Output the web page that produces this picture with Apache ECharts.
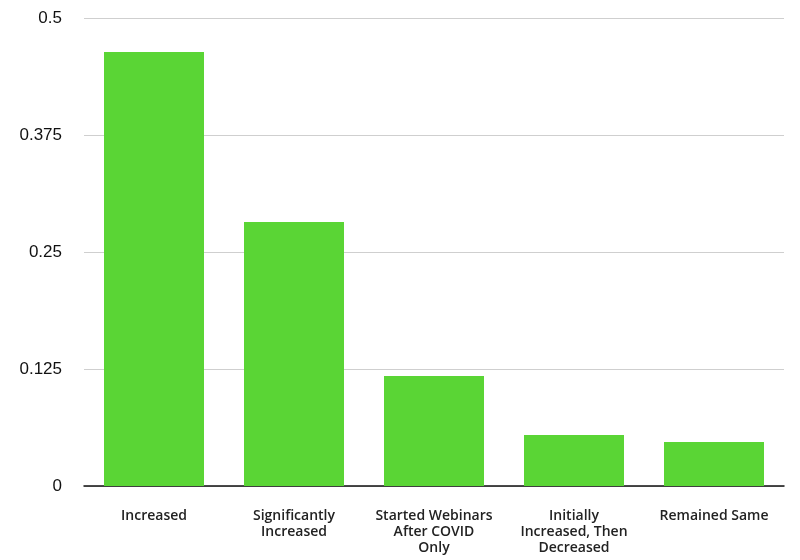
<!DOCTYPE html>
<html><head><meta charset="utf-8">
<script src="https://cdn.jsdelivr.net/npm/echarts@6/dist/echarts.min.js"></script>
<style>html,body{margin:0;padding:0;background:#fff}#c{width:800px;height:560px}</style>
</head><body><div id="c"></div>
<script>
const categories = ["Increased", "Significantly\nIncreased", "Started Webinars\nAfter COVID\nOnly", "Initially\nIncreased, Then\nDecreased", "Remained Same"];
const values = [0.4637, 0.282, 0.1175, 0.0545, 0.047];
const yTicks = [0, 0.125, 0.25, 0.375, 0.5];

const chart = echarts.init(document.getElementById('c'));
chart.setOption({
  animation: false,
  grid: {left: 84, right: 16, top: 18, bottom: 74},
  xAxis: {
    type: 'category', data: categories,
    axisLine: {lineStyle: {color: '#111', width: 1.5}},
    axisTick: {show: false},
    axisLabel: {color: '#222', fontFamily: 'Open Sans', fontSize: 14, fontWeight: 600, lineHeight: 16, margin: 22, interval: 0}
  },
  yAxis: {
    type: 'value', min: 0, max: 0.5, interval: 0.125,
    axisLine: {show: false}, axisTick: {show: false},
    splitLine: {lineStyle: {color: '#cfcfcf', width: 1}},
    axisLabel: {color: '#111', fontFamily: 'Liberation Sans', fontSize: 17, margin: 22,
      formatter: v => yTicks.includes(v) ? String(v) : ''}
  },
  series: [{
    type: 'bar', data: values, barWidth: 100,
    itemStyle: {color: '#5AD535'}
  }]
});
</script></body></html>
